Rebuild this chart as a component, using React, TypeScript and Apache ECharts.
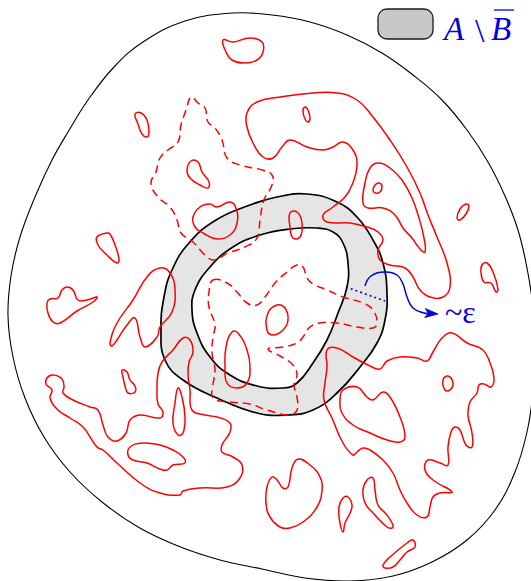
import React, { useEffect, useRef } from "react";
import * as echarts from "echarts";

type P = [number, number];

// ---- black boundaries ----
const outerBoundary: P[] = [[233,13],[272,15],[310,22],[347,35],[382,53],[413,75],[442,100],[467,130],[488,162],[505,196],[518,230],[527,268],[533,308],[535,350],[533,392],[527,432],[515,472],[495,510],[467,540],[432,562],[393,576],[350,581],[305,578],[262,569],[220,560],[178,546],[138,527],[102,502],[70,472],[44,437],[25,398],[13,357],[8,316],[11,276],[20,237],[35,197],[52,160],[68,132],[88,100],[114,67],[143,42],[185,21]];
const annulusOuter: P[] = [[307,194],[337,202],[357,217],[373,240],[383,263],[387,293],[385,320],[377,343],[360,367],[337,393],[313,410],[287,415],[257,413],[217,398],[183,380],[165,360],[161,330],[164,297],[172,270],[189,243],[216,220],[250,205],[277,197]];
const annulusInner: P[] = [[317,228],[333,232],[343,243],[348,263],[347,287],[338,313],[327,340],[313,363],[297,383],[283,388],[257,386],[230,375],[210,357],[197,333],[192,310],[195,290],[210,267],[233,247],[260,235],[290,229]];

// ---- red solid contours ----
const blobTopLeft: P[] = [[223,40],[233,42],[250,38],[262,42],[263,52],[257,60],[243,63],[232,60],[226,52]];
const blobSmallA: P[] = [[135,114],[141,113],[147,120],[149,132],[147,137],[142,134],[138,124]];
const blobSmallB: P[] = [[191,161],[198,162],[202,172],[209,182],[208,188],[200,185],[190,178],[187,170]];
const loopBig: P[] = [[247,113],[257,102],[280,97],[313,93],[337,93],[357,100],[373,117],[390,140],[407,167],[420,193],[428,215],[437,237],[447,263],[450,287],[443,297],[430,297],[420,290],[413,277],[405,268],[390,265],[380,260],[378,250],[383,240],[378,232],[367,227],[350,223],[327,222],[323,215],[333,207],[345,197],[352,185],[357,165],[353,150],[343,142],[333,147],[323,150],[307,147],[290,140],[282,147],[273,158],[263,157],[253,143],[247,127]];
const ellipseTop: P[] = [[305,107],[308,110],[310,118],[308,122],[305,119],[303,111]];
const loopInner: P[] = [[363,203],[365,183],[370,168],[378,163],[390,168],[402,180],[412,198],[419,218],[424,238],[425,252],[420,249],[412,238],[403,228],[395,215],[383,208],[368,208]];
const ellipseInner: P[] = [[379,183],[382,186],[380,192],[375,193],[373,190],[375,185]];
const ellipseRight: P[] = [[466,204],[469,206],[466,214],[460,220],[457,218],[460,209]];
const blobRight: P[] = [[482,265],[487,263],[493,272],[498,289],[496,292],[491,283],[484,282],[481,273]];
const blobLeft1: P[] = [[97,237],[107,233],[110,234],[115,245],[119,259],[117,263],[107,255],[98,245]];
const blobLeft2: P[] = [[47,303],[50,299],[58,298],[62,290],[67,287],[73,290],[78,300],[87,300],[97,297],[93,302],[77,311],[60,323],[53,322],[48,313]];
const leafLeft: P[] = [[110,343],[117,323],[133,300],[147,277],[160,268],[170,273],[175,290],[172,312],[160,327],[157,337],[145,347],[140,337],[135,318],[127,325],[117,340],[112,346]];
const blobGrayLeft: P[] = [[193,217],[200,207],[210,204],[217,207],[230,202],[236,208],[237,223],[230,235],[217,239],[203,233],[195,227]];
const loopLowerLeft: P[] = [[47,378],[53,375],[62,379],[64,387],[63,393],[73,400],[90,407],[98,410],[103,425],[108,437],[117,441],[126,433],[130,420],[140,415],[160,418],[163,412],[158,404],[157,390],[158,373],[162,362],[173,350],[183,338],[190,340],[193,352],[189,362],[188,375],[190,390],[192,410],[205,415],[217,417],[230,423],[230,432],[222,445],[222,452],[233,457],[242,465],[240,478],[227,487],[200,488],[183,491],[180,495],[160,493],[140,483],[117,463],[103,450],[97,447],[83,427],[70,418],[58,410],[50,398],[52,390],[46,384]];
const blobSmallC: P[] = [[122,370],[127,372],[130,380],[135,386],[135,392],[128,393],[125,386],[123,377]];
const teardropLeft: P[] = [[178,388],[182,397],[185,417],[183,433],[178,435],[173,423],[175,403]];
const blobFlat: P[] = [[130,447],[143,443],[160,445],[173,450],[183,457],[185,463],[173,465],[167,470],[160,469],[147,463],[133,460],[128,455]];
const teardropInner: P[] = [[232,332],[238,333],[247,350],[250,367],[247,383],[237,388],[227,383],[225,367],[226,347]];
const loopCenter: P[] = [[277,305],[285,308],[288,320],[283,330],[273,335],[267,330],[268,313]];
const ellipseAnnulus: P[] = [[290,213],[297,212],[302,223],[300,237],[293,238],[290,227]];
const loopLowerRight: P[] = [[327,350],[337,348],[353,357],[370,366],[380,369],[387,361],[400,357],[417,358],[427,361],[433,352],[442,338],[452,333],[467,343],[483,350],[490,363],[494,378],[491,387],[484,384],[479,385],[477,393],[470,402],[468,415],[472,433],[472,447],[466,445],[460,430],[455,427],[451,432],[448,447],[448,465],[440,463],[428,460],[425,470],[433,480],[452,492],[440,493],[433,497],[430,507],[427,517],[417,515],[407,503],[400,490],[393,473],[383,460],[370,450],[363,448],[357,452],[353,455],[343,443],[332,418],[324,400],[325,383],[327,367]];
const blobMidRight: P[] = [[343,390],[357,387],[367,397],[373,400],[383,392],[390,397],[400,417],[405,437],[400,442],[387,440],[370,433],[353,425],[342,413],[340,400]];
const blobBottomA: P[] = [[272,477],[277,480],[283,488],[288,487],[292,468],[298,459],[310,465],[320,477],[322,490],[317,507],[303,522],[290,528],[280,527],[270,517],[266,503],[267,487]];
const teardropBottom: P[] = [[343,498],[348,497],[352,505],[350,513],[345,523],[343,532],[340,523],[339,507]];
const blobBottomB: P[] = [[367,480],[373,478],[375,490],[378,505],[387,515],[393,525],[392,528],[387,527],[373,513],[365,503],[363,490]];
const blobBottomC: P[] = [[383,565],[390,557],[407,543],[413,540],[415,547],[407,552],[400,560],[393,567],[385,568]];
const blobSmallD: P[] = [[443,380],[448,376],[453,383],[450,390],[445,390]];

// ---- red dashed contours ----
const dashedUpper: P[] = [[190,98],[186,110],[181,125],[178,142],[168,150],[160,158],[156,172],[151,183],[158,197],[170,207],[177,220],[181,233],[193,242],[205,255],[214,260],[228,253],[245,247],[257,238],[260,220],[264,200],[272,185],[272,175],[262,170],[240,165],[227,158],[222,140],[215,128],[208,122],[205,108],[198,103],[193,98]];
const dashedInner: P[] = [[213,280],[227,283],[237,292],[247,303],[257,305],[265,297],[275,283],[287,272],[297,265],[303,267],[307,278],[313,284],[327,290],[343,297],[363,303],[373,310],[377,323],[373,328],[357,327],[337,323],[320,323],[310,327],[303,337],[297,343],[283,347],[268,349],[280,356],[293,365],[297,375],[294,385],[297,397],[297,410],[290,415],[267,410],[250,404],[230,402],[213,398],[213,385],[215,370],[212,353],[213,337],[215,325],[209,307],[209,292]];

// ---- blue annotation ----
const arrowCurve: P[] = [[365,286],[371,276],[385,272],[397,275],[403,284],[407,297],[413,308],[424,313],[438,314]];
const dottedWidth: P[] = [[346,287],[385,301]];

const RED = "#ff0000";
const BLUE = "#0000dd";

type Shape = { pts: P[]; closed: boolean; stroke: string; fill?: string; lw: number; dash?: number[]; smooth?: number; arrow?: boolean };

const solidRed = [blobTopLeft, blobSmallA, blobSmallB, loopBig, ellipseTop, loopInner, ellipseInner, ellipseRight, blobRight, blobLeft1, blobLeft2, leafLeft, blobGrayLeft, loopLowerLeft, blobSmallC, teardropLeft, blobFlat, teardropInner, loopCenter, ellipseAnnulus, loopLowerRight, blobMidRight, blobBottomA, teardropBottom, blobBottomB, blobBottomC, blobSmallD];
const dashedRed = [dashedUpper, dashedInner];

const shapes: Shape[] = [
  { pts: outerBoundary, closed: true, stroke: "#000", lw: 1.1, smooth: 0.4 },
  { pts: annulusOuter, closed: true, stroke: "#000", fill: "#e5e5e5", lw: 1.7 },
  { pts: annulusInner, closed: true, stroke: "#000", fill: "#ffffff", lw: 1.7 },
  ...solidRed.map((pts) => ({ pts, closed: true, stroke: RED, lw: 1.5 })),
  ...dashedRed.map((pts) => ({ pts, closed: true, stroke: RED, lw: 1.5, dash: [8, 5] })),
  { pts: dottedWidth, closed: false, stroke: BLUE, lw: 1.6, dash: [2, 3], smooth: 0 },
  { pts: arrowCurve, closed: false, stroke: BLUE, lw: 1.5, arrow: true },
];

export default function App() {
  const ref = useRef<HTMLDivElement>(null);
  useEffect(() => {
    document.body.style.margin = "0";
    const chart = echarts.init(ref.current!, null, { renderer: "svg" });
    chart.setOption({
      animation: false,
      backgroundColor: "#ffffff",
      grid: { left: 0, right: 0, top: 0, bottom: 0 },
      xAxis: { type: "value", min: 0, max: 531, show: false },
      yAxis: { type: "value", min: 0, max: 581, inverse: true, show: false },
      series: [
        {
          type: "custom",
          clip: false,
          silent: true,
          data: shapes.map((_, i) => [i, 0]),
          renderItem: (params: any, api: any) => {
            const s = shapes[params.dataIndex];
            const pts = s.pts.map((p) => api.coord(p));
            const smooth = s.smooth ?? 0.45;
            if (s.closed) {
              return {
                type: "polygon",
                shape: { points: pts, smooth },
                style: { fill: s.fill || "none", stroke: s.stroke, lineWidth: s.lw, lineDash: s.dash || null },
              };
            }
            if (s.arrow) {
              const n = pts.length;
              const tip = pts[n - 1];
              const prev = pts[n - 2];
              const dx = tip[0] - prev[0], dy = tip[1] - prev[1];
              const len = Math.hypot(dx, dy) || 1;
              const ux = dx / len, uy = dy / len;
              const nx = -uy, ny = ux;
              const L = 13, W = 4.5;
              const base = [tip[0] - ux * L, tip[1] - uy * L];
              const line = pts.slice(0, n - 1).concat([[tip[0] - ux * 9, tip[1] - uy * 9]]);
              return {
                type: "group",
                children: [
                  { type: "polyline", shape: { points: line, smooth: 0.45 }, style: { fill: "none", stroke: s.stroke, lineWidth: s.lw } },
                  {
                    type: "polygon",
                    shape: {
                      points: [tip, [base[0] + nx * W, base[1] + ny * W], [tip[0] - ux * L * 0.75, tip[1] - uy * L * 0.75], [base[0] - nx * W, base[1] - ny * W]],
                    },
                    style: { fill: s.stroke, stroke: s.stroke, lineWidth: 0.8 },
                  },
                ],
              };
            }
            return {
              type: "polyline",
              shape: { points: pts, smooth },
              style: { fill: "none", stroke: s.stroke, lineWidth: s.lw, lineDash: s.dash || null },
            };
          },
        },
      ],
      graphic: [
        { type: "rect", shape: { x: 378, y: 9, width: 55, height: 30, r: 9 }, style: { fill: "#c8c8c8", stroke: "#1a1a1a", lineWidth: 1.3 } },
        { type: "text", x: 444, y: 29, style: { text: "A", font: "italic 33px 'Liberation Serif'", fill: BLUE, verticalAlign: "middle" } },
        { type: "text", x: 475, y: 30, style: { text: "\\", font: "34px 'Liberation Serif'", fill: BLUE, verticalAlign: "middle" } },
        { type: "text", x: 491, y: 29, style: { text: "B", font: "italic 33px 'Liberation Serif'", fill: BLUE, verticalAlign: "middle" } },
        { type: "line", shape: { x1: 494, y1: 10, x2: 514, y2: 10 }, style: { stroke: BLUE, lineWidth: 1.3 } },
        { type: "text", x: 445, y: 312, style: { text: "~ε", font: "32px 'Liberation Serif'", fill: BLUE, verticalAlign: "middle" } },
      ],
    });
    return () => chart.dispose();
  }, []);
  return <div ref={ref} style={{ width: 531, height: 581 }} />;
}
